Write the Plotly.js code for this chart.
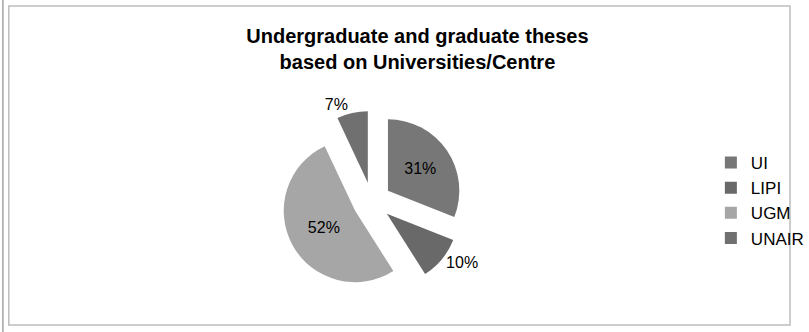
<!DOCTYPE html>
<html>
<head>
<meta charset="utf-8">
<script src="https://cdn.plot.ly/plotly-3.0.1.min.js"></script>
<style>html,body{margin:0;padding:0;background:#fff;}#chart{width:809px;height:332px;}</style>
</head>
<body>
<div id="chart"></div>
<script>
const labels = ['UI', 'LIPI', 'UGM', 'UNAIR'];
const values = [31, 10, 52, 7];
const colors = ['#777777', '#696969', '#a6a6a6', '#707070'];
const textPositions = ['inside', 'outside', 'inside', 'outside'];
const pulls = [0.27, 0.27, 0.27, 0.27];

const trace = {
  type: 'pie',
  labels: labels,
  values: values,
  sort: false,
  direction: 'clockwise',
  rotation: 0,
  pull: pulls,
  marker: {colors: colors, line: {width: 0}},
  textinfo: 'percent',
  texttemplate: '%{percent:.0%}',
  textposition: textPositions,
  insidetextorientation: 'horizontal',
  textfont: {family: 'Liberation Sans, Arial, sans-serif', size: 16, color: '#000'},
  domain: {x: [0.3557, 0.5849], y: [0.1139, 0.6723]},
  hoverinfo: 'none'
};

const layout = {
  width: 809, height: 332,
  margin: {l: 0, r: 0, t: 0, b: 0},
  paper_bgcolor: '#fff',
  title: {
    text: '<b>Undergraduate and graduate theses<br>based on Universities/Centre</b>',
    font: {family: 'Liberation Sans, Arial, sans-serif', size: 20, color: '#000'},
    x: 0.516, xanchor: 'center', y: 0.87, yanchor: 'top'
  },
  showlegend: true,
  legend: {
    x: 0.8987, xanchor: 'left', y: 0.396, yanchor: 'middle',
    font: {family: 'Liberation Sans, Arial, sans-serif', size: 17, color: '#000'},
    itemwidth: 30, bgcolor: 'rgba(0,0,0,0)'
  },
  shapes: [
    {type: 'rect', xref: 'paper', yref: 'paper', x0: 9/809, x1: 808/809, y0: 1-325/332, y1: 1-6/332,
     line: {color: '#bdbdbd', width: 1.5}},
    {type: 'line', xref: 'paper', yref: 'paper', x0: 3/809, x1: 3/809, y0: 0, y1: 1,
     line: {color: '#777', width: 1}}
  ]
};

Plotly.newPlot('chart', [trace], layout, {displayModeBar: false, staticPlot: true});
</script>
</body>
</html>
